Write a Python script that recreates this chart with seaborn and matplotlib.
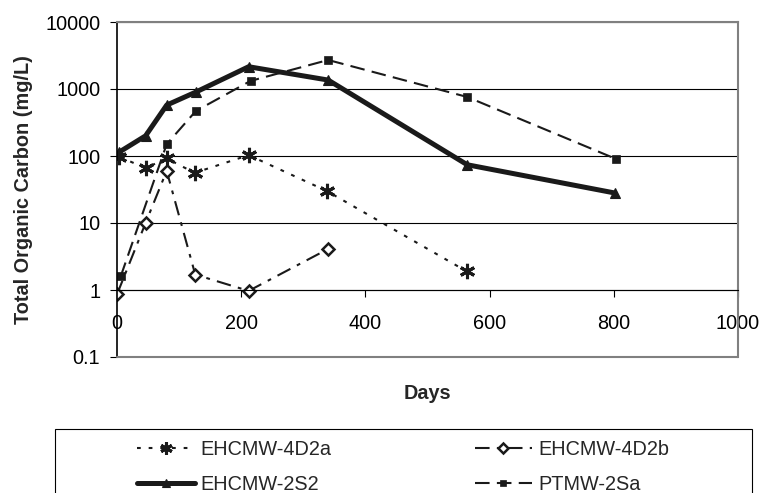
import matplotlib
matplotlib.use("Agg")
import matplotlib.pyplot as plt
import seaborn as sns
from matplotlib.patches import Rectangle
from matplotlib.ticker import FixedLocator, FuncFormatter, NullLocator

# Valores (dias x carbono orgânico total, mg/L)
dias_4d2a = [4, 46, 80, 125, 212, 338, 563]
toc_4d2a = [97, 66, 92, 56, 103, 30, 1.9]

dias_4d2b = [0, 46, 80, 126, 212, 340]
toc_4d2b = [0.86, 10, 60, 1.7, 0.97, 4.1]

dias_2s2 = [4, 46, 80, 127, 212, 340, 564, 802]
toc_2s2 = [115, 200, 575, 900, 2150, 1360, 74, 28]

dias_2sa = [6, 80, 127, 215, 340, 564, 804]
toc_2sa = [1.6, 150, 470, 1320, 2710, 760, 90]

nomes = ["EHCMW-4D2a", "EHCMW-4D2b", "EHCMW-2S2", "PTMW-2Sa"]
y_ticks = [0.1, 1, 10, 100, 1000, 10000]
x_ticks = [0, 200, 400, 600, 800, 1000]

sns.set_theme(style="white")
plt.rcParams["font.family"] = ["Liberation Sans", "DejaVu Sans"]
fs = 14.3

fig = plt.figure(figsize=(7.59, 4.93), dpi=100)
ax = fig.add_axes([117 / 759, 1 - 357 / 493, 621 / 759, 335 / 493])

# Uma chamada por série para controlar traço e marcador
sns.lineplot(x=dias_4d2a, y=toc_4d2a, ax=ax, color="k", lw=1.5,
             linestyle=(0, (1.8, 3.8)), marker=(6, 2, 0), markersize=11,
             markeredgewidth=2.2, markeredgecolor="k", label=nomes[0], legend=False)
sns.lineplot(x=dias_4d2b, y=toc_4d2b, ax=ax, color="k", lw=1.5,
             linestyle=(0, (7, 3.5, 1.8, 3.5)), marker="D", markersize=6.5,
             markerfacecolor="white", markeredgewidth=1.8, markeredgecolor="k",
             label=nomes[1], legend=False)
sns.lineplot(x=dias_2s2, y=toc_2s2, ax=ax, color="k", lw=3.6,
             marker="^", markersize=7, markeredgewidth=0.8, markeredgecolor="k",
             label=nomes[2], legend=False)
sns.lineplot(x=dias_2sa, y=toc_2sa, ax=ax, color="k", lw=1.5,
             linestyle=(0, (7, 3.5)), marker="s", markersize=6,
             markeredgewidth=0.5, markeredgecolor="k", label=nomes[3], legend=False)

ax.set_yscale("log")
ax.set_ylim(0.1, 10000)
ax.set_xlim(0, 1000)
ax.yaxis.set_major_locator(FixedLocator(y_ticks))
ax.yaxis.set_minor_locator(NullLocator())
ax.yaxis.set_major_formatter(FuncFormatter(lambda v, p: f"{v:g}"))
ax.set_xticks(x_ticks)
ax.xaxis.set_minor_locator(NullLocator())

ax.grid(axis="y", color="black", lw=0.8)
ax.grid(axis="x", visible=False)

# Eixo horizontal cruza em y = 1 (estilo Excel)
ax.spines["bottom"].set_position(("data", 1))
ax.spines["bottom"].set_color("black")
ax.spines["bottom"].set_linewidth(0.8)
ax.spines["left"].set_color("black")
ax.spines["left"].set_linewidth(1.2)
for lado in ["top", "right"]:
    ax.spines[lado].set_color("#808080")
    ax.spines[lado].set_linewidth(1.5)
ax.plot([0, 1], [0, 0], transform=ax.transAxes, color="#808080", lw=1.5,
        clip_on=False, zorder=3)

ax.tick_params(axis="both", which="major", direction="out", length=5, width=0.8,
               color="black", labelsize=fs, labelcolor="black")
ax.tick_params(axis="y", pad=7, left=True)
ax.tick_params(axis="x", pad=12, bottom=True)

ax.set_xlabel("Days", fontsize=fs, fontweight="bold")
ax.xaxis.set_label_coords(0.5, -0.08)
ax.set_ylabel("Total Organic Carbon (mg/L)", fontsize=fs, fontweight="bold")
ax.yaxis.set_label_coords(-0.135, 0.5)

# Legenda em duas colunas com caixa própria
handles, labels = ax.get_legend_handles_labels()
ordem = [0, 2, 1, 3]
fig.legend([handles[i] for i in ordem], [labels[i] for i in ordem],
           loc="upper center", bbox_to_anchor=(403 / 759, 1 - 422 / 493),
           ncol=2, frameon=False, fontsize=fs, handlelength=2.9,
           handletextpad=0.3, columnspacing=7.2, labelspacing=0.8,
           borderpad=0.4, markerscale=0.8)
fig.patches.append(Rectangle((55 / 759, -0.1), 697 / 759, 0.1 + 1 - 429 / 493,
                             transform=fig.transFigure, fill=False,
                             edgecolor="black", lw=0.8))

fig.savefig("out.png", dpi=100)
plt.close(fig)
